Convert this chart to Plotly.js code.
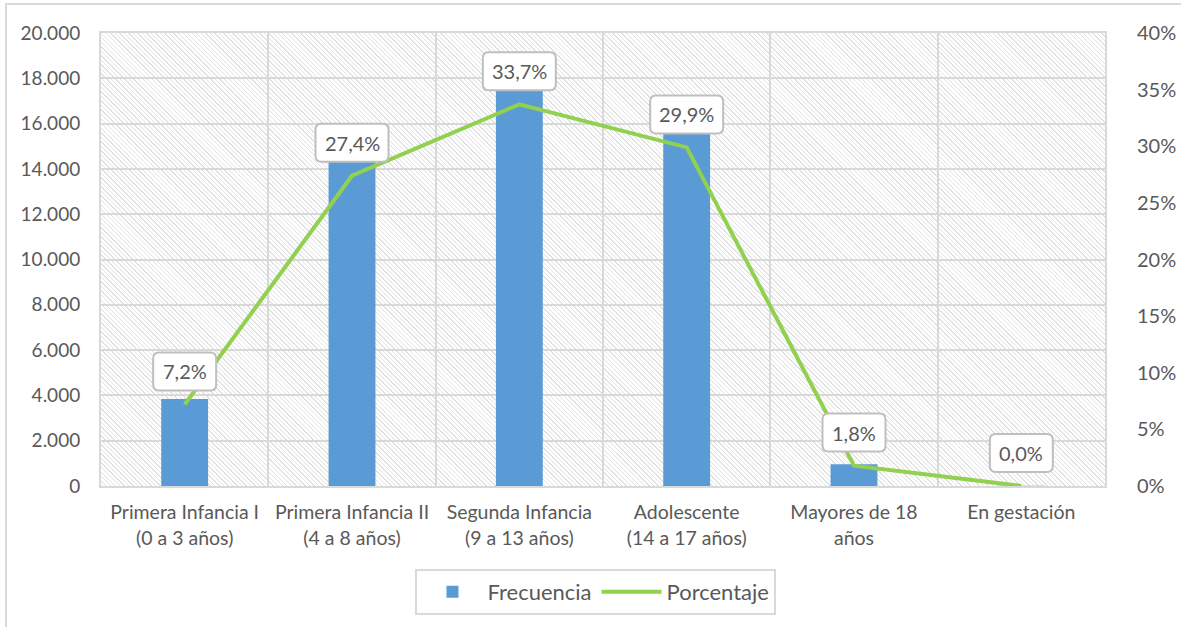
<!DOCTYPE html>
<html>
<head>
<meta charset="utf-8">
<script src="https://cdn.plot.ly/plotly-3.0.1.min.js"></script>
<style>
  html, body { margin: 0; padding: 0; background: #ffffff; }
  #frame { position: absolute; left: 5px; top: 3px; width: 1180px; height: 630px;
           border-left: 2px solid #d9d9d9; border-top: 2px solid #d9d9d9; box-sizing: border-box; }
  #hatch { position: absolute; left: 101px; top: 33px; width: 1004px; height: 453px;
           background: repeating-linear-gradient(45deg, #e2e2e2 0px, #e2e2e2 1px, #ffffff 1px, #ffffff 3.2px); }
  #chart { position: absolute; left: 0; top: 0; width: 1181px; height: 627px; }
</style>
</head>
<body>
<div id="frame"></div>
<div id="hatch"></div>
<div id="chart"></div>
<script>
// ---- data ----
const categories = [
  "Primera Infancia I<br>(0 a 3 años)",
  "Primera Infancia II<br>(4 a 8 años)",
  "Segunda Infancia<br>(9 a 13 años)",
  "Adolescente<br>(14 a 17 años)",
  "Mayores de 18<br>años",
  "En gestación"
];
const frecuencia = [3840, 14600, 17960, 15940, 960, 15];
const porcentaje = [7.2, 27.4, 33.7, 29.9, 1.8, 0.0];
const porcentajeLabels = ["7,2%", "27,4%", "33,7%", "29,9%", "1,8%", "0,0%"];
const leftTicks = [0, 2000, 4000, 6000, 8000, 10000, 12000, 14000, 16000, 18000, 20000];
const rightTicks = [0, 5, 10, 15, 20, 25, 30, 35, 40];
const rightTickLabels = ["0%", "5%", "10%", "15%", "20%", "25%", "30%", "35%", "40%"];

const FONT = "Lato, 'Open Sans', sans-serif";
const GRAY = "#595959";
const GRID = "#d9d9d9";

const traces = [
  {
    type: "bar", name: "Frecuencia", x: categories, y: frecuencia,
    marker: { color: "#5b9bd5" }, width: 0.28, yaxis: "y",
    hoverinfo: "x+y"
  },
  {
    type: "scatter", mode: "lines", name: "Porcentaje", x: categories, y: porcentaje,
    line: { color: "#92d050", width: 4 }, yaxis: "y2"
  }
];

// rounded label boxes anchored at each percentage point
const shapes = [];
const annotations = [];
porcentaje.forEach((p, i) => {
  const w = porcentajeLabels[i].length * 10 + 23;
  const hw = w / 2, r = 6, y0 = 14, y1 = 52;
  const path = `M ${-hw + r},${y0} H ${hw - r} Q ${hw},${y0} ${hw},${y0 + r} V ${y1 - r} Q ${hw},${y1} ${hw - r},${y1} H ${-hw + r} Q ${-hw},${y1} ${-hw},${y1 - r} V ${y0 + r} Q ${-hw},${y0} ${-hw + r},${y0} Z`;
  shapes.push({
    type: "path", xref: "x", yref: "y2", xsizemode: "pixel", ysizemode: "pixel",
    xanchor: i, yanchor: p, path: path,
    fillcolor: "#ffffff", line: { color: "#bfbfbf", width: 2 }, layer: "above"
  });
  annotations.push({
    x: i, y: p, xref: "x", yref: "y2", text: porcentajeLabels[i], showarrow: false,
    yshift: 33, font: { family: FONT, size: 20, color: GRAY }
  });
});

const layout = {
  width: 1181, height: 627,
  margin: { l: 101, r: 76, t: 33, b: 141 },
  paper_bgcolor: "rgba(0,0,0,0)", plot_bgcolor: "rgba(0,0,0,0)",
  separators: ",.",
  font: { family: FONT, size: 20, color: GRAY },
  xaxis: {
    type: "category", tickson: "boundaries", showgrid: true, gridcolor: GRID, gridwidth: 2,
    ticks: "", showline: true, linecolor: GRID, linewidth: 2, mirror: true,
    tickfont: { family: FONT, size: 19.5, color: GRAY }, ticklabelstandoff: 8,
    range: [-0.5, 5.5], fixedrange: true
  },
  yaxis: {
    range: [0, 20000], tickvals: leftTicks, tickformat: ",d",
    showgrid: true, gridcolor: GRID, gridwidth: 2, zeroline: false,
    showline: true, linecolor: GRID, linewidth: 2, mirror: true,
    ticks: "", ticklabelstandoff: 15,
    tickfont: { family: FONT, size: 19, color: GRAY }
  },
  yaxis2: {
    overlaying: "y", side: "right", range: [0, 40], tickvals: rightTicks, ticktext: rightTickLabels,
    tickmode: "array",
    showgrid: false, zeroline: false, ticks: "", ticklabelstandoff: 31,
    tickfont: { family: FONT, size: 20, color: GRAY }
  },
  showlegend: true,
  legend: {
    orientation: "h", x: 0.493, xanchor: "center", y: -0.183, yanchor: "top",
    bordercolor: GRID, borderwidth: 2, bgcolor: "#ffffff",
    font: { family: FONT, size: 22, color: GRAY }, itemwidth: 60
  },
  shapes: shapes,
  annotations: annotations
};

Plotly.newPlot("chart", traces, layout, { displayModeBar: false, staticPlot: true });
</script>
</body>
</html>
